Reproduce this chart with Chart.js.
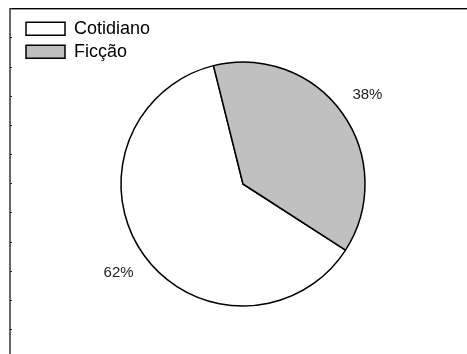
<!DOCTYPE html>
<html>
<head>
<meta charset="utf-8">
<script src="https://cdn.jsdelivr.net/npm/chart.js@4.4.0/dist/chart.umd.min.js"></script>
<style>
  html, body { margin: 0; padding: 0; background: #fff; }
  #wrap { width: 467px; height: 354px; position: relative; }
</style>
</head>
<body>
<div id="wrap"><canvas id="chart" width="467" height="354"></canvas></div>
<script>
// data
const categories = ['Cotidiano', 'Ficção'];
const shares = [62, 38];
const sliceColors = ['#ffffff', '#c0c0c0'];

// left edge of the old frame, with its little tick marks
const framePlugin = {
    id: 'frame',
    beforeDraw(chart) {
        const ctx = chart.ctx;
        ctx.save();
        ctx.fillStyle = '#fff';
        ctx.fillRect(0, 0, chart.width, chart.height);
        ctx.fillStyle = '#000';
        ctx.fillRect(9, 8, chart.width - 9, 1);
        ctx.fillStyle = '#999';
        ctx.fillRect(10, 9, chart.width - 10, 1);
        ctx.fillStyle = '#666';
        ctx.fillRect(9, 8, 2, chart.height - 8);
        ctx.fillStyle = '#222';
        for (let y = 8.1; y < chart.height; y += 29.2) {
            ctx.fillRect(10, Math.round(y), 2, 1);
        }
        ctx.restore();
    }
};

// percentage labels outside each slice
const pctLabels = {
    id: 'pctLabels',
    afterDatasetsDraw(chart) {
        const ctx = chart.ctx;
        const meta = chart.getDatasetMeta(0);
        const total = shares.reduce((a, b) => a + b, 0);
        ctx.save();
        ctx.font = '15px "Liberation Sans", Arial, sans-serif';
        ctx.fillStyle = '#222';
        ctx.textAlign = 'center';
        ctx.textBaseline = 'middle';
        meta.data.forEach((arc, i) => {
            const p = arc.getProps(['x', 'y', 'startAngle', 'endAngle', 'outerRadius'], true);
            const mid = (p.startAngle + p.endAngle) / 2;
            const r = p.outerRadius + 31;
            const txt = Math.round(shares[i] / total * 100) + '%';
            ctx.fillText(txt, p.x + Math.cos(mid) * r, p.y + Math.sin(mid) * r);
        });
        ctx.restore();
    }
};

new Chart(document.getElementById('chart').getContext('2d'), {
    type: 'pie',
    data: {
        labels: categories,
        datasets: [{
            data: shares,
            backgroundColor: sliceColors,
            borderColor: '#000',
            borderWidth: 1.5,
            radius: 122
        }]
    },
    options: {
        responsive: false,
        animation: false,
        rotation: 122.8,
        layout: { padding: { left: 21, right: 2, top: 15, bottom: 1 } },
        plugins: {
            legend: {
                position: 'chartArea',
                align: 'start',
                // empty title only pushes the items down
                title: { display: true, text: '', font: { size: 1 }, padding: { top: 13.6, bottom: 0 } },
                labels: {
                    boxWidth: 39,
                    boxHeight: 13,
                    padding: 5,
                    color: '#000',
                    font: { family: '"Liberation Sans", Arial, sans-serif', size: 18 }
                }
            },
            tooltip: { enabled: false }
        }
    },
    plugins: [framePlugin, pctLabels]
});
</script>
</body>
</html>
